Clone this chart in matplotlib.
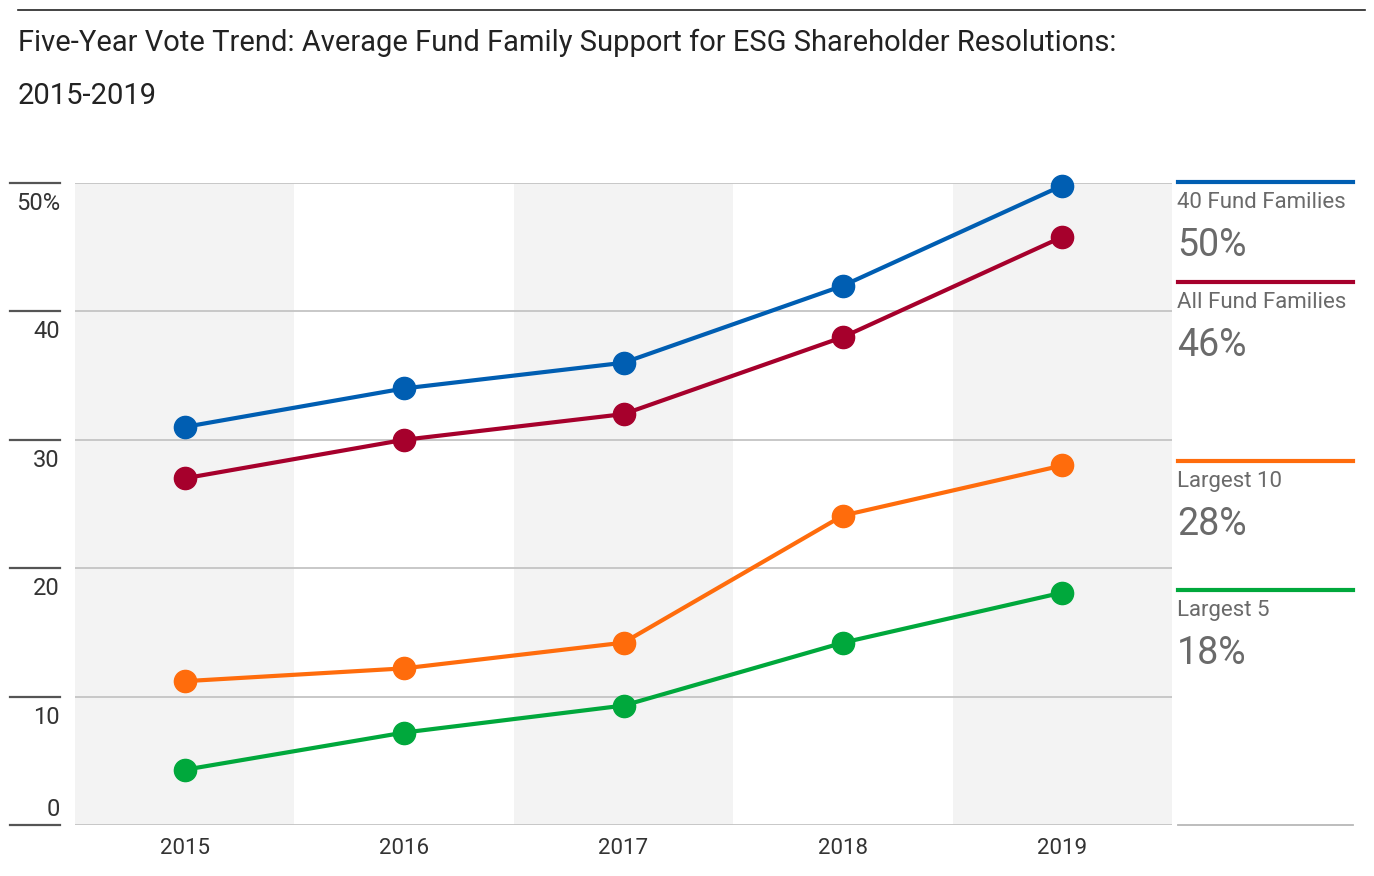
import matplotlib
matplotlib.use("Agg")
import matplotlib.pyplot as plt
from matplotlib import font_manager

# Police étroite si disponible
noms = {f.name for f in font_manager.fontManager.ttflist}
if "Liberation Sans Narrow" in noms:
    police = "Liberation Sans Narrow"
else:
    police = "Roboto"
plt.rcParams["font.family"] = [police, "DejaVu Sans"]

# Données
annees = ["2015", "2016", "2017", "2018", "2019"]
series = ["40 Fund Families", "All Fund Families", "Largest 10", "Largest 5"]
fonds_40 = [31, 34, 36, 42, 49.8]
tous_fonds = [27, 30, 32, 38, 45.8]
plus_grands_10 = [11.2, 12.2, 14.2, 24.1, 28]
plus_grands_5 = [4.3, 7.2, 9.3, 14.2, 18.1]
valeurs = [fonds_40, tous_fonds, plus_grands_10, plus_grands_5]
etiquettes_finales = ["50%", "46%", "28%", "18%"]
couleurs = ["#005eb2", "#a6002c", "#ff6c0c", "#00a83c"]
graduations = [0, 10, 20, 30, 40, 50]

W, H = 1374, 876
fig = plt.figure(figsize=(W / 100, H / 100), dpi=100)
ax = fig.add_axes([75 / W, 1 - 825 / H, (1172 - 75) / W, (825 - 183) / H])

x = list(range(len(annees)))
ax.set_xlim(-0.5, len(annees) - 0.5)
ax.set_ylim(0, 50)

# Bandes grises
for i in x:
    if i % 2 == 0:
        ax.axvspan(i - 0.5, i + 0.5, color="#f3f3f3", zorder=0, lw=0)

# Grille
for g in graduations:
    ax.axhline(g, color="#c4c4c4", lw=1.3, zorder=1)

for vals, c in zip(valeurs, couleurs):
    ax.plot(x, vals, color=c, lw=3, marker="o", ms=16, zorder=3, clip_on=False)

for s in ax.spines.values():
    s.set_visible(False)
ax.set_yticks([])
ax.set_xticks(x)
ax.set_xticklabels(annees, fontsize=16, color="#333333")
ax.tick_params(axis="x", length=0, pad=9)

# Graduations à gauche
for g in graduations:
    yf = ax.transData.transform((0, g))[1] / H
    fig.add_artist(plt.Line2D([10 / W, 60 / W], [yf, yf], color="#555555", lw=1.6))
    lab = "50%" if g == 50 else str(g)
    if g == 0:
        fig.text(60 / W, yf + 4 / H, lab, ha="right", va="bottom", fontsize=17, color="#333333")
    else:
        fig.text(60 / W, yf - 9 / H, lab, ha="right", va="top", fontsize=17, color="#333333")

# Légende à droite
legende_y = [182, 282, 461, 590]
for nom, pct, c, ly in zip(series, etiquettes_finales, couleurs, legende_y):
    yf = 1 - ly / H
    fig.add_artist(plt.Line2D([1178 / W, 1353 / W], [yf, yf], color=c, lw=3))
    fig.text(1177 / W, yf - 10 / H, nom, ha="left", va="top", fontsize=16, color="#6a6a6a")
    fig.text(1177 / W, yf - 45 / H, pct, ha="left", va="top", fontsize=27, color="#6a6a6a")
yb = 1 - 825 / H
fig.add_artist(plt.Line2D([1178 / W, 1353 / W], [yb, yb], color="#b8b8b8", lw=1.3))

# Titre
fig.add_artist(plt.Line2D([18 / W, 1365 / W], [1 - 10 / H, 1 - 10 / H], color="#222222", lw=1.2))
fig.text(18 / W, 1 - 43 / H,
         "Five-Year Vote Trend: Average Fund Family Support for ESG Shareholder Resolutions:",
         ha="left", va="center", fontsize=21, color="#222222")
fig.text(18 / W, 1 - 96 / H, "2015-2019", ha="left", va="center", fontsize=21, color="#222222")

fig.savefig("out.png", dpi=100)
